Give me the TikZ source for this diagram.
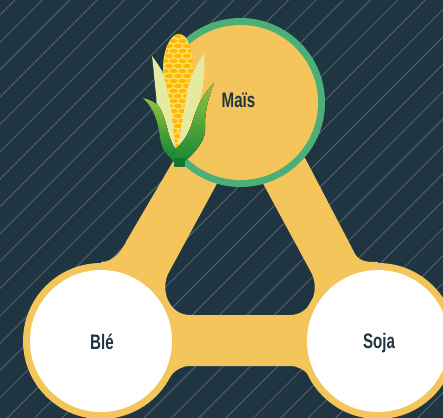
\documentclass[tikz,border=0pt]{standalone}
\usepackage{fontspec}
\newfontfamily\labfont[FakeStretch=0.72]{Liberation Sans}
\definecolor{bgc}{HTML}{1F3642}
\definecolor{stripe}{HTML}{56666F}
\definecolor{wheat}{HTML}{F4C55B}
\definecolor{ringg}{HTML}{4CAF78}
\definecolor{paleleaf}{HTML}{E6EA9E}
\definecolor{kern}{HTML}{FFB800}
\definecolor{kernbg}{HTML}{FFDC66}
\definecolor{leaftop}{HTML}{95C53E}
\definecolor{leafmid}{HTML}{86BF3E}
\definecolor{leafbot}{HTML}{128534}
\definecolor{stem}{HTML}{0F7A2D}
\tikzset{
  stripeline/.style={draw=stripe,line width=0.8pt},
  cropname/.style={font=\labfont\bfseries\fontsize{21}{21}\selectfont,text=bgc,inner sep=0pt},
  frontleaf/.style={top color=leaftop,middle color=leafmid,bottom color=leafbot,draw=none},
}
\begin{document}
\begin{tikzpicture}[x=1pt,y=-1pt]
\useasboundingbox (0,0) rectangle (443,417);
\clip (-2,-2) rectangle (445,420);
\fill[bgc] (-2,-2) rectangle (445,420);
\foreach \k in {0,...,32}{
  \pgfmathsetmacro{\c}{15+27.35*\k}
  \draw[stripeline] (\c,0) -- (\c-460,460);
}
% yellow triangle frame
\fill[wheat,even odd rule]
  (175,158) -- (127,240) .. controls (122,250) and (114,262) .. (101,262)
  -- (101,341) -- (101,420) -- (150,400) -- (170,377)
  .. controls (175,370) and (182,366) .. (190,366) -- (290,366)
  .. controls (298,366) and (305,370) .. (310,377)
  -- (378,420) -- (378,262)
  .. controls (366,262) and (358,262) .. (353,250) -- (305,158) -- cycle
  (240,141) -- (168,274)
  .. controls (160,292) and (170,315) .. (190,315) -- (290,315)
  .. controls (310,315) and (320,292) .. (312,274) -- cycle;
\fill[wheat] (101,341) circle[radius=78];
\fill[wheat] (378,341) circle[radius=78];
\fill[white] (101,341) circle[radius=71];
\fill[white] (378,341) circle[radius=71];
\fill[ringg] (240.5,102.5) circle[radius=84.5];
\fill[wheat] (240.5,102.5) circle[radius=77.5];
\node[cropname] (mais) at (238.5,100) {Maïs};
\node[cropname] (ble) at (102,342) {Blé};
\node[cropname] (soja) at (379,343) {Soja};
% corn: ear
\begin{scope}
\clip (179,34) .. controls (170,34) and (163,50) .. (163,70)
  .. controls (163,100) and (170,130) .. (177,150)
  .. controls (184,130) and (193,100) .. (193,70)
  .. controls (193,50) and (188,34) .. (179,34) -- cycle;
\fill[kernbg] (155,30) rectangle (200,155);
\foreach \r in {0,...,23}{
  \pgfmathsetmacro{\yy}{36+\r*5}
  \pgfmathsetmacro{\off}{mod(\r,2)*4.5}
  \foreach \i in {-3,...,3}{
    \fill[kern] (178+\i*9+\off,\yy) ellipse[x radius=4.0,y radius=2.1];
  }
}
\end{scope}
% corn: pale husk leaves
\fill[paleleaf] (152,56) .. controls (157,63) and (161,68) .. (163,74)
  .. controls (166,85) and (170,100) .. (172,115)
  .. controls (173,128) and (174,140) .. (176,149)
  .. controls (168,142) and (162,128) .. (158,108)
  .. controls (155,90) and (154,72) .. (152,56) -- cycle;
\fill[paleleaf] (204,53) .. controls (206,75) and (202,95) .. (197,112)
  .. controls (193,128) and (188,140) .. (178,149)
  .. controls (180,132) and (184,112) .. (187,92)
  .. controls (190,78) and (197,63) .. (204,53) -- cycle;
% corn: front leaves
\fill[frontleaf] (143,98) .. controls (151,100) and (157,103) .. (160,108)
  .. controls (165,118) and (167,128) .. (169,135)
  .. controls (171,141) and (173,146) .. (176,150) -- (172,159)
  .. controls (166,155) and (162,150) .. (160,138)
  .. controls (158,122) and (154,108) .. (143,98) -- cycle;
\fill[frontleaf] (214,83) .. controls (205,92) and (198,103) .. (193,120)
  .. controls (190,130) and (187,136) .. (183,141)
  .. controls (178,147) and (173,152) .. (170,158) -- (177,165)
  .. controls (186,162) and (195,152) .. (199,146)
  .. controls (204,139) and (206,132) .. (205,124)
  .. controls (205,112) and (208,98) .. (214,83) -- cycle;
\fill[stem] (174,158) rectangle (185,167);
\end{tikzpicture}
\end{document}
